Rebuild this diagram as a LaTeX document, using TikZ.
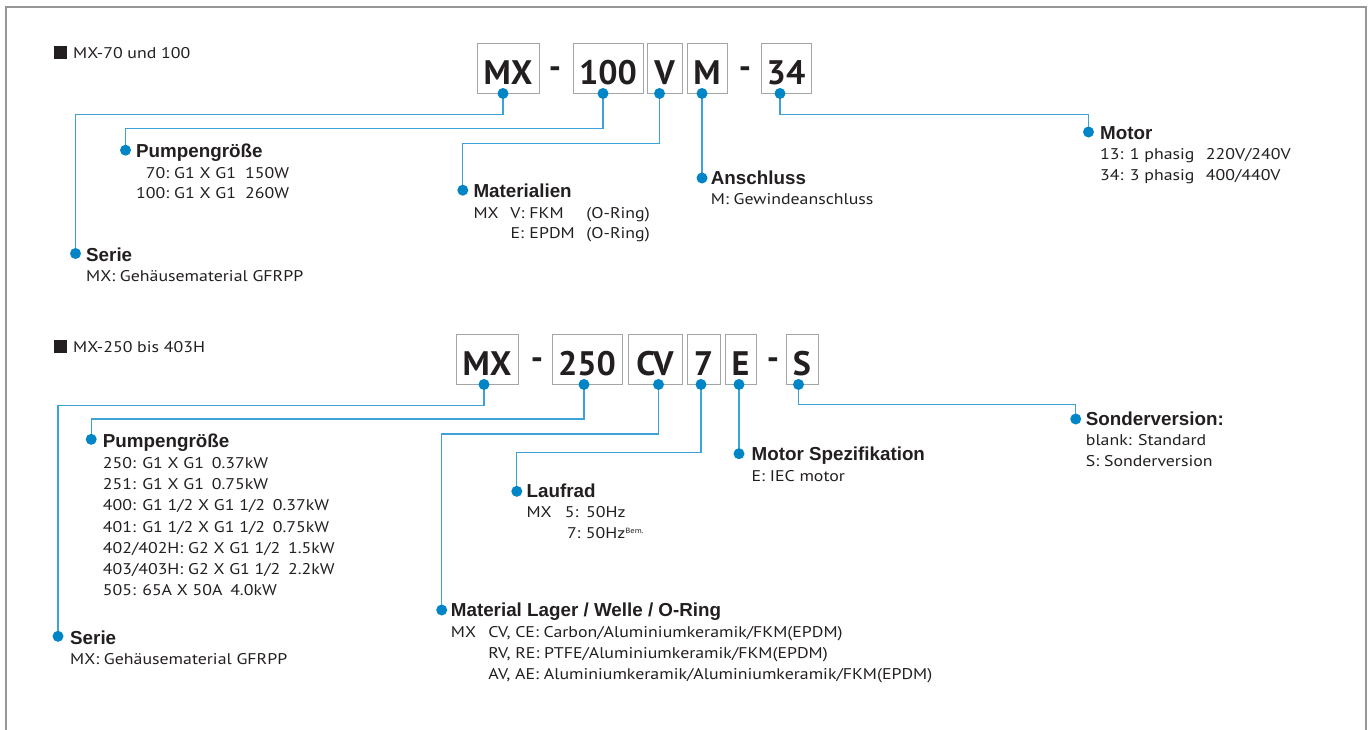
\documentclass[tikz,border=0pt]{standalone}
\usepackage{fontspec}
\setmainfont{PT Sans}[FakeStretch=1.15]
\newfontfamily\codefont{PT Sans}
\newfontfamily\headfont{Liberation Sans}
\usetikzlibrary{calc,positioning}
\definecolor{linkblue}{RGB}{60,162,216}
\definecolor{dotblue}{RGB}{0,133,199}
\definecolor{ink}{RGB}{35,31,32}
\definecolor{boxgray}{RGB}{165,165,165}
\definecolor{framegray}{RGB}{150,150,150}
\newcommand{\hd}[1]{{\headfont\bfseries\fontsize{18.8}{20}\selectfont #1}}

\begin{document}
\begin{tikzpicture}[
    x=1pt, y=-1pt,
    codebox/.style={draw=boxgray, line width=0.9pt, inner sep=0pt, minimum height=50pt, text height=32pt, text depth=0pt, text=ink, font=\codefont\bfseries\fontsize{34}{34}\selectfont},
    dashsign/.style={inner sep=0pt, text=ink, font=\codefont\bfseries\fontsize{34}{34}\selectfont},
    txt/.style={anchor=base west, inner sep=0pt, text=ink, font=\fontsize{15.5}{20.5}\selectfont},
    bullet/.style={fill=ink, minimum size=13pt, inner sep=0pt},
    link/.style={draw=linkblue, line width=1.3pt},
    dot/.style={fill=dotblue}
]
\useasboundingbox (0,0) rectangle (1371,729);
\draw[framegray, line width=2pt] (6,740) |- (1366,7) -- (1366,740);

% --- MX-70 und 100 ---
\node[bullet] (sqA) at (60,52.5) {};
\node[txt] (titleA) at (73,58) {MX-70 und 100};

\node[codebox, minimum width=62pt] (mxA) at (508,68) {MX};
\node[dashsign] (dashA1) at (555,73) {-};
\node[codebox, minimum width=70pt] (sizeA) at (608,68) {100};
\node[codebox, minimum width=35pt] (matcA) at (664.5,68) {V};
\node[codebox, minimum width=40pt] (conA) at (707,68) {M};
\node[dashsign] (dashA2) at (745,73) {-};
\node[codebox, minimum width=50pt] (motcA) at (786,68) {34};

\node[txt] (serA) at (86,261) {\begin{tabular}[t]{@{}l@{}}\hd{Serie}\\MX: Gehäusematerial GFRPP\end{tabular}};
\node[txt] (pumpA) at (136,157.7) {\begin{tabular}[t]{@{}r@{\hspace{5pt}}l@{}}\multicolumn{2}{@{}l@{}}{\hd{Pumpengröße}}\\
  70: & \makebox[71pt][l]{G1 X G1}150W\\
  100: & \makebox[71pt][l]{G1 X G1}260W\end{tabular}};
\node[txt] (matA) at (473.3,197.7) {\begin{tabular}[t]{@{}l@{}}\hd{Materialien}\\
  \makebox[37pt][l]{MX}\makebox[19pt][l]{V:}\makebox[57pt][l]{FKM}(O-Ring)\\
  \hspace{37pt}\makebox[19pt][l]{E:}\makebox[57pt][l]{EPDM}(O-Ring)\end{tabular}};
\node[txt] (ansA) at (710.7,184) {\begin{tabular}[t]{@{}l@{}}\hd{Anschluss}\\M: Gewindeanschluss\end{tabular}};
\node[txt] (motA) at (1100,139) {\begin{tabular}[t]{@{}l@{}}\hd{Motor}\\
  \makebox[105.7pt][l]{13: 1 phasig}220V/240V\\
  \makebox[105.7pt][l]{34: 3 phasig}400/440V\end{tabular}};

\coordinate (mxAp) at ($(mxA.south)+(-5,0)$);
\coordinate (sizeAp) at ($(sizeA.south)+(-5,0)$);
\coordinate (matcAp) at ($(matcA.south)+(-5,0)$);
\coordinate (conAp) at ($(conA.south)+(-5,0)$);
\coordinate (motcAp) at ($(motcA.south)+(-6,0)$);
\coordinate (serAd) at ($(serA.base west)+(-10.5,-7.5)$);
\coordinate (pumpAd) at ($(pumpA.base west)+(-10.5,-7.5)$);
\coordinate (matAd) at ($(matA.base west)+(-10.5,-7.5)$);
\coordinate (ansAd) at ($(ansA.base west)+(-10.5,-6)$);
\coordinate (motAd) at ($(motA.base west)+(-11.5,-7)$);

\draw[link] (mxAp) -- ++(0,21) -| (serAd);
\draw[link] (sizeAp) -- ++(0,35) -| (pumpAd);
\draw[link] (matcAp) -- ++(0,50) -| (matAd);
\draw[link] (conAp) -- (conAp |- ansAd);
\draw[link] (motcAp) -- ++(0,21) -| (motAd);
\foreach \p in {mxAp,sizeAp,matcAp,conAp,motcAp,serAd,pumpAd,matAd,motAd}
  \fill[dot] (\p) circle (5.5pt);
\fill[dot] (conAp |- ansAd) circle (5.5pt);

% --- MX-250 bis 403H ---
\node[bullet] (sqB) at (60,346.5) {};
\node[txt] (titleB) at (73,352) {MX-250 bis 403H};

\node[codebox, minimum width=62pt] (mxB) at (487,359) {MX};
\node[dashsign] (dashB1) at (537,364) {-};
\node[codebox, minimum width=70pt] (sizeB) at (587,359) {250};
\node[codebox, minimum width=54pt] (lagB) at (655,359) {CV};
\node[codebox, minimum width=33pt] (radB) at (703.5,359) {7};
\node[codebox, minimum width=31pt] (specB) at (740.5,359) {E};
\node[dashsign] (dashB2) at (773,364) {-};
\node[codebox, minimum width=32pt] (sonB) at (802,359) {S};

\node[txt] (serB) at (70,644.3) {\begin{tabular}[t]{@{}l@{}}\hd{Serie}\\MX: Gehäusematerial GFRPP\end{tabular}};
\node[txt, font=\fontsize{15.5}{21.2}\selectfont] (pumpB) at (102.7,447.3) {\begin{tabular}[t]{@{}l@{}}\hd{Pumpengröße}\\
  250: G1 X G1\hspace{0.5em}0.37kW\\
  251: G1 X G1\hspace{0.5em}0.75kW\\
  400: G1 1/2 X G1 1/2\hspace{0.5em}0.37kW\\
  401: G1 1/2 X G1 1/2\hspace{0.5em}0.75kW\\
  402/402H: G2 X G1 1/2\hspace{0.5em}1.5kW\\
  403/403H: G2 X G1 1/2\hspace{0.5em}2.2kW\\
  505: 65A X 50A\hspace{0.5em}4.0kW\end{tabular}};
\node[txt] (laufB) at (526.4,497.3) {\begin{tabular}[t]{@{}l@{}}\hd{Laufrad}\\
  \makebox[38.2pt][l]{MX}\makebox[21.4pt][l]{5:}50Hz\\
  \hspace{40.4pt}\makebox[19pt][l]{7:}50Hz\textsuperscript{\fontsize{7.5}{8}\selectfont Bem.}\end{tabular}};
\node[txt] (specBt) at (751.4,460.7) {\begin{tabular}[t]{@{}l@{}}\hd{Motor Spezifikation}\\E: IEC motor\end{tabular}};
\node[txt, font=\fontsize{15.5}{21}\selectfont] (matB) at (450.7,616.7) {\begin{tabular}[t]{@{}l@{}}\hd{Material Lager / Welle / O-Ring}\\
  \makebox[37.5pt][l]{MX}CV, CE: Carbon/Aluminiumkeramik/FKM(EPDM)\\
  \hspace{37.5pt}RV, RE: PTFE/Aluminiumkeramik/FKM(EPDM)\\
  \hspace{37.5pt}AV, AE: Aluminiumkeramik/Aluminiumkeramik/FKM(EPDM)\end{tabular}};
\node[txt] (sonBt) at (1085.7,425) {\begin{tabular}[t]{@{}l@{}}\hd{Sonderversion:}\\blank: Standard\\S: Sonderversion\end{tabular}};

\coordinate (mxBp) at ($(mxB.south)+(-3,0)$);
\coordinate (sizeBp) at ($(sizeB.south)+(-3,0)$);
\coordinate (lagBp) at ($(lagB.south)+(3.5,0)$);
\coordinate (radBp) at ($(radB.south)+(-2.5,0)$);
\coordinate (specBp) at ($(specB.south)+(-1.5,0)$);
\coordinate (sonBp) at ($(sonB.south)+(-3.5,0)$);
\coordinate (serBd) at ($(serB.base west)+(-12,-8)$);
\coordinate (pumpBd) at ($(pumpB.base west)+(-11.5,-8)$);
\coordinate (laufBd) at ($(laufB.base west)+(-9.6,-6)$);
\coordinate (specBd) at ($(specBt.base west)+(-12,-7)$);
\coordinate (matBd) at ($(matB.base west)+(-9,-6.7)$);
\coordinate (sonBd) at ($(sonBt.base west)+(-10,-6)$);

\draw[link] (mxBp) -- ++(0,21) -| (serBd);
\draw[link] (sizeBp) -- ++(0,34.5) -| (pumpBd);
\draw[link] (lagBp) -- ++(0,49.5) -| (matBd);
\draw[link] (radBp) -- ++(0,67.7) -| (laufBd);
\draw[link] (specBp) -- (specBp |- specBd);
\draw[link] (sonBp) -- ++(0,20) -| (sonBd);
\foreach \p in {mxBp,sizeBp,lagBp,radBp,specBp,sonBp,serBd,pumpBd,laufBd,matBd,sonBd}
  \fill[dot] (\p) circle (5.5pt);
\fill[dot] (specBp |- specBd) circle (5.5pt);
\end{tikzpicture}
\end{document}
